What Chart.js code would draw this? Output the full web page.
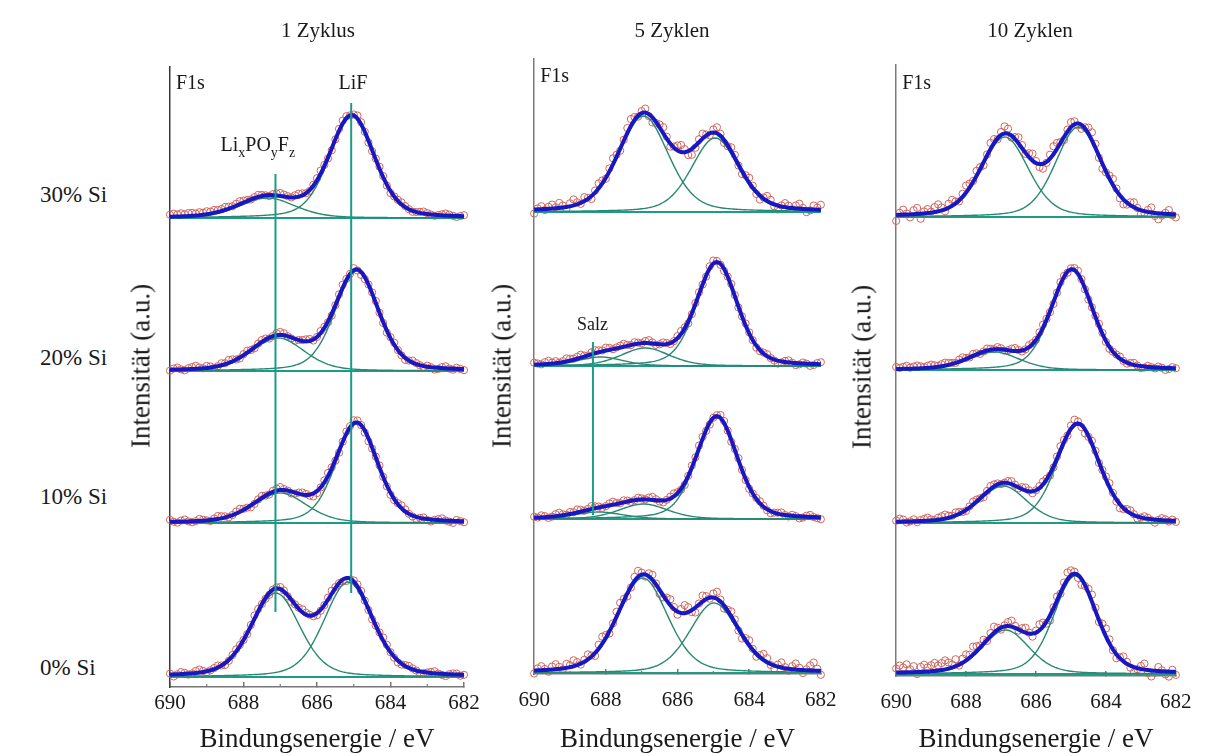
<!DOCTYPE html>
<html lang="de">
<head>
<meta charset="utf-8">
<title>F1s XPS-Spektren</title>
<script src="https://cdn.jsdelivr.net/npm/chart.js@4.4.1/dist/chart.umd.min.js"></script>
<style>
  html, body { margin: 0; padding: 0; background: #fff; }
  #figure { position: relative; width: 1210px; height: 756px; overflow: hidden;
            font-family: 'Liberation Serif', 'Times New Roman', serif; color: #1a1a1a; }
  #figure canvas { position: absolute; top: 0; }
  .title { position: absolute; top: 30px; font-size: 21px; white-space: nowrap; transform: translate(-50%, -50%); }
  .row { position: absolute; left: 40px; font-size: 23px; white-space: nowrap; transform: translateY(-50%); }
  .ytitle { position: absolute; font-size: 27px; white-space: nowrap; transform: translate(-50%, -50%) rotate(-90deg); }
</style>
</head>
<body>
<div id="figure">
  <canvas id="panel1" width="350" height="756" style="left:140px"></canvas>
  <canvas id="panel2" width="355" height="756" style="left:500px"></canvas>
  <canvas id="panel3" width="348" height="756" style="left:862px"></canvas>
</div>
<script>
// ---- data ----
const energyMin = 682;
const energyMax = 690;
const pointStep = 0.1;   // measurement step / eV
const curveStep = 0.05;  // sampling of the fit curves / eV
const lorentzShare = 0.3;

const panelTitles = ['1 Zyklus', '5 Zyklen', '10 Zyklen'];
const rowLabels = ['0% Si', '10% Si', '20% Si', '30% Si'];
const xTicks = [690, 688, 686, 684, 682];
const minorTicks = [689, 687, 685, 683];

// vertical offset of each stacked spectrum (a.u.), bottom row (0% Si) first
const offsets1 = [10, 164, 316, 469];
const offsets2 = [1, 155, 308, 462];
const offsets3 = [2, 153, 306, 459];

// fitted components: [centre / eV, height / a.u., FWHM / eV]
const peaks1 = [
  [[687.12, 84, 1.55], [685.15, 95, 1.55]],
  [[687.00, 30, 1.7], [684.92, 99, 1.35]],
  [[687.06, 33, 1.7], [684.92, 100, 1.4]],
  [[687.35, 20, 1.8], [685.05, 102, 1.45]]
];
const peaks2 = [
  [[686.97, 95, 1.65], [684.98, 70, 1.6]],
  [[688.20, 7, 1.6], [686.95, 15, 1.6], [684.90, 102, 1.35]],
  [[688.15, 9, 1.5], [686.90, 18, 1.6], [684.90, 103, 1.35]],
  [[686.95, 96, 1.65], [684.95, 74, 1.55]]
];
const peaks3 = [
  [[686.87, 44, 1.6], [684.88, 98, 1.45]],
  [[686.94, 37, 1.6], [684.80, 98, 1.45]],
  [[687.19, 18, 1.7], [684.97, 100, 1.4]],
  [[686.89, 80, 1.6], [684.79, 90, 1.55]]
];

// measured counts minus fit envelope, 690 -> 682 eV in 0.1 eV steps
const resid1 = [
  [ 1,-2, 0, 2, 1,-1, 0, 2, 3, 1,
   -1, 0, 1, 2, 0,-2,-1, 1, 2, 1,
    0,-1, 1, 3, 2, 0,-1,-2, 0, 1,
    2, 1,-1,-2, 0, 1, 3, 2, 1,-1,
   -2,-1, 0, 2, 3, 1, 0,-2,-3,-1,
    1, 2, 2, 0,-1,-2, 0, 1, 3, 2,
    0,-1,-2,-1, 1, 2, 1, 0,-2,-1,
    0, 1, 2, 0,-1,-2, 0, 1, 1,-1,
    0],
  [ 2, 0,-1, 1, 2, 0,-1, 0, 2, 1,
    0,-1, 1, 3, 2, 1,-1, 0, 2, 3,
    1, 0,-2,-1, 1, 2, 0,-1, 1, 2,
    3, 1, 0,-2,-1, 1, 2, 1,-1,-3,
   -2, 0, 2, 3, 1,-1,-2, 0, 2, 1,
    3, 2, 0,-2,-3,-1, 1, 2, 0,-1,
   -2,-1, 1, 3, 2, 0,-1,-2, 0, 1,
   -1,-2, 0, 1, 2, 0,-1,-2, 1, 0,
   -1],
  [-1, 1, 2, 0,-1, 1, 2, 3, 1, 0,
    2, 1,-1, 0, 2, 1, 3, 2, 0,-1,
    1, 2, 0,-1, 1, 2, 1,-1, 0, 2,
    3, 2, 0,-1,-2, 0, 1, 2, 2,-1,
    0, 2, 1,-1,-2, 0, 2, 3, 1, 0,
    2,-1,-3,-2, 0, 1, 2, 0,-1,-2,
    1, 2, 0,-1,-2, 0, 2, 1, 0,-1,
    1, 0,-2,-1, 1, 2, 0,-1, 1, 0,
   -1],
  [ 2, 3, 2, 3, 2, 3, 3, 2, 3, 2,
    3, 2, 3, 2, 2, 3, 2, 1, 2, 3,
    2, 1, 0, 1, 2, 1, 0,-1, 1, 2,
    3, 2, 1, 0, 2, 3, 2, 0,-1, 1,
    2, 3, 1,-1,-2, 0, 2, 3, 2, 0,
    1, 3, 2, 0,-2,-1, 1, 2, 1,-1,
   -2, 0, 1, 2, 1, 0,-1, 0, 1, 2,
    1, 0,-1, 0, 1, 2, 1, 0,-1, 0,
    1]
];
const resid2 = [
  [-3, 2, 4, 1,-2, 3, 5, 2,-1, 4,
    2, 6, 3,-1, 2, 5, 1,-3, 4, 7,
    3,-2, 1, 5, 6, 2,-3,-1, 4, 6,
    2,-2, 3, 5, 1,-4,-2, 3, 6, 2,
   -3, 4, 8, 5,-2,-5, 1, 6, 3,-1,
    4, 7, 2,-3, 1, 5, 3,-2,-4, 2,
    5, 1,-3, 2, 6, 4,-1,-3, 2, 5,
    1,-2, 3, 6, 2,-3, 1, 5, 8, 2,
   -4],
  [ 1, 0, 2, 1,-1, 0, 2, 3, 1, 0,
    2, 1, 3, 2, 0, 1, 3, 2, 1,-1,
    0, 2, 3, 1, 0, 2, 1,-1, 0, 2,
    1, 0, 2, 3, 1,-1,-2, 0, 2, 3,
    1,-1,-2, 0, 2, 1, 3, 2,-1,-2,
    0, 1, 3, 2, 0,-2, 1, 2, 0,-1,
   -2, 0, 1, 2, 1,-1,-2, 0, 1, 2,
    0,-1, 1, 0,-2,-1, 1, 2, 0,-1,
   -2],
  [ 2, 1, 0, 2, 3, 1, 2, 0, 1, 3,
    2, 1, 2, 3, 1, 0, 2, 3, 2, 1,
    3, 2, 0, 1, 2, 3, 1, 0, 2, 1,
    0, 2, 3, 1,-1, 0, 2, 1,-1, 0,
    2, 3, 1,-2,-1, 1, 2, 0,-1, 2,
    3, 1,-1,-2, 0, 2, 1,-1, 0, 2,
    1, 0,-2,-1, 1, 2, 0,-1,-3,-1,
    1, 2, 0,-2,-1, 1, 0,-2,-1, 1,
    2],
  [-4, 1, 3,-1, 2, 4, 1, 5, 2,-2,
    3, 6, 2,-1, 4, 1,-3, 2, 5, 3,
   -1, 3, 6, 2,-2, 1, 5, 7, 3,-1,
    2, 4,-2,-5,-1, 3, 6, 2,-3, 1,
    5, 7, 3,-4,-6,-2, 3, 5, 1,-2,
    3, 6, 2,-3,-1, 4, 3,-1,-3, 2,
    5, 2,-2,-4, 1, 5, 3,-2,-4, 1,
    4, 2,-1, 3, 5, 1,-3,-1, 4, 2,
    5]
];
const resid3 = [
  [ 4, 7, 5, 8, 3, 6,-2, 5, 7, 4,
    6, 8, 5, 7, 9, 6, 3, 7,-1, 4,
    6, 3, 8, 5, 2, 4,-1, 3, 6, 2,
   -2, 1, 4, 6, 2,-1, 3, 5, 1,-3,
    2, 6, 4,-2,-5, 1, 4,-1, 3, 7,
    5, 2,-3,-6,-1, 4, 7, 3,-2, 5,
    8, 4,-1,-4, 1, 5, 2,-2,-5,-1,
    3, 6,-3,-6,-2, 4, 1,-3,-5, 2,
   -3],
  [ 1, 3, 2,-1, 0, 2,-1, 1, 2, 3,
    1, 0, 2, 3, 4, 2, 1, 3, 2, 0,
   -1, 1, 3, 2, 0,-2, 1, 3, 2, 1,
   -1, 0, 2, 3, 1,-1, 2, 3, 1,-2,
    0, 2, 3, 1,-2,-1, 2, 4, 2,-1,
    3, 5, 2,-2,-4,-1, 3, 2,-1, 1,
    3, 4, 1,-2,-4,-1, 2, 3, 1,-2,
    0, 2, 1,-1,-3, 0, 2, 1,-1, 1,
   -1],
  [ 2, 1, 2, 3, 1, 2, 3, 2, 1, 2,
    3, 2, 1, 2, 3, 2, 1, 0, 2, 3,
    1, 0, 2, 1,-1, 0, 2, 1, 0, 2,
    1,-1, 0, 2, 3, 1,-1, 0, 2, 1,
    0, 2, 3, 1,-1,-2, 0, 2, 1,-1,
    1, 2, 3, 1,-1,-2, 0, 1, 2, 1,
   -1,-2, 0, 1, 2, 0,-1, 1, 2, 0,
   -2,-1, 1, 0,-1, 1, 0,-2,-1, 1,
    0],
  [-6, 2, 5, 1,-3, 4, 6,-5, 2, 4,
    1, 5, 7, 3,-2, 4, 6, 2,-1, 3,
    7, 4, 1, 5, 2,-3, 1, 6, 4,-1,
    3, 7, 5,-2, 2, 6, 3,-1, 4, 7,
    2,-3,-5,-1, 4, 8, 6, 1,-3, 2,
    5, 3,-2,-4, 1, 6, 8, 4,-2,-5,
   -1, 3, 6, 2,-3,-5,-2, 3, 5, 1,
   -4,-2, 2, 5,-3,-6,-2, 1, 4,-1,
   -3]
];

// reference lines: energy / eV and vertical extent (a.u.)
const markers1 = [687.13, 685.07];
const markerSpans1 = [[75, 513], [94, 584]];
const markers2 = [688.36];
const markerSpans2 = [[159, 332]];

// ---- styles ----
const BLUE = '#1717c4';
const COMPONENT = '#2a8872';
const BASELINE = '#1f9a86';
const MARKER = '#1a9c88';
const POINTS = '#d0665a';
const TEXT = '#1a1a1a';
const SERIF = "'Liberation Serif', 'Times New Roman', serif";

function pseudoVoigt(e, peak) {
  const [centre, height, fwhm] = peak;
  const u = (e - centre) / fwhm;
  return height * (lorentzShare / (1 + 4 * u * u) +
                   (1 - lorentzShare) * Math.exp(-4 * Math.LN2 * u * u));
}

function energyGrid(step) {
  const out = [];
  const n = Math.round((energyMax - energyMin) / step);
  for (let i = 0; i <= n; i++) out.push(+(energyMax - i * step).toFixed(3));
  return out;
}

function spectrumSets(offset, peaks, resid) {
  const fine = energyGrid(curveStep);
  const envelope = e => offset + peaks.reduce((s, p) => s + pseudoVoigt(e, p), 0);
  const sets = [];
  sets.push({ data: fine.map(e => ({ x: e, y: envelope(e) })),
              borderColor: BLUE, borderWidth: 4, order: 0 });
  peaks.forEach(p => sets.push({
    data: fine.map(e => ({ x: e, y: offset + pseudoVoigt(e, p) })),
    borderColor: COMPONENT, borderWidth: 1.4, order: 1 }));
  sets.push({ data: [{ x: energyMax, y: offset }, { x: energyMin, y: offset }],
              borderColor: BASELINE, borderWidth: 2, order: 1 });
  sets.push({ data: energyGrid(pointStep).map((e, i) => ({ x: e, y: envelope(e) + (resid[i] || 0) })),
              showLine: false, pointRadius: 3.6, pointBorderWidth: 1,
              pointBorderColor: POINTS, pointBackgroundColor: 'rgba(0,0,0,0)', order: 2 });
  return sets;
}

function markerSets(energies, spans) {
  return energies.map((e, i) => ({
    data: [{ x: e, y: spans[i][0] }, { x: e, y: spans[i][1] }],
    borderColor: MARKER, borderWidth: 2, order: -1 }));
}

// text with "_x" subscripts, e.g. Li_xPO_yF_z
function drawRich(ctx, text, x, y, size, align) {
  const parts = text.split(/_(.)/).map((t, i) => [t, i % 2 === 1]).filter(p => p[0]);
  const fontFor = sub => (sub ? size * 0.7 : size) + 'px ' + SERIF;
  const widths = parts.map(([t, sub]) => { ctx.font = fontFor(sub); return ctx.measureText(t).width; });
  const total = widths.reduce((a, b) => a + b, 0);
  let cx = align === 'center' ? x - total / 2 : x;
  ctx.textAlign = 'left';
  ctx.textBaseline = 'alphabetic';
  parts.forEach(([t, sub], i) => {
    ctx.font = fontFor(sub);
    ctx.fillText(t, cx, sub ? y + size * 0.28 : y);
    cx += widths[i];
  });
}

const panelDecor = {
  id: 'panelDecor',
  afterDraw(chart, args, opts) {
    const { ctx, chartArea, scales: { x, y } } = chart;
    ctx.save();
    ctx.strokeStyle = opts.axisColor;
    ctx.lineWidth = 1.2;
    minorTicks.forEach(v => {
      const px = x.getPixelForValue(v);
      ctx.beginPath();
      ctx.moveTo(px, chartArea.bottom);
      ctx.lineTo(px, chartArea.bottom - 3);
      ctx.stroke();
    });
    ctx.fillStyle = TEXT;
    drawRich(ctx, 'F1s', chartArea.left + 6, chartArea.top + opts.coreDy, 20, 'left');
    opts.notes.forEach(n => drawRich(ctx, n.text, x.getPixelForValue(n.energy),
                                     y.getPixelForValue(n.level), n.size, 'center'));
    ctx.restore();
  }
};

const panels = [
  { id: 'panel1', offsets: offsets1, peaks: peaks1, resid: resid1,
    markers: markerSets(markers1, markerSpans1),
    notes: [{ text: 'LiF', energy: 685.02, level: 598, size: 20 },
            { text: 'Li_xPO_yF_z', energy: 687.61, level: 536, size: 20 }],
    yMax: 620, padding: { left: 30, right: 26, top: 67, bottom: 0 },
    axisHeight: 69, tickPad: 8.4, coreDy: 22, leftAxis: '#3a3a3a' },
  { id: 'panel2', offsets: offsets2, peaks: peaks2, resid: resid2,
    markers: markerSets(markers2, markerSpans2),
    notes: [{ text: 'Salz', energy: 688.37, level: 344, size: 18 }],
    yMax: 615, padding: { left: 31, right: 28, top: 59, bottom: 0 },
    axisHeight: 82, tickPad: 18.4, coreDy: 23, leftAxis: '#7a7a7a' },
  { id: 'panel3', offsets: offsets3, peaks: peaks3, resid: resid3,
    markers: [],
    notes: [],
    yMax: 611, padding: { left: 30, right: 24, top: 65, bottom: 0 },
    axisHeight: 80, tickPad: 18.4, coreDy: 24, leftAxis: '#7a7a7a' }
];

panels.forEach(p => {
  let datasets = [...p.markers];
  p.offsets.forEach((off, row) => {
    datasets = datasets.concat(spectrumSets(off, p.peaks[row], p.resid[row]));
  });

  new Chart(document.getElementById(p.id), {
    type: 'line',
    data: { datasets },
    options: {
      responsive: false,
      animation: false,
      events: [],
      devicePixelRatio: 1,
      layout: { padding: p.padding },
      elements: {
        line: { tension: 0, fill: false },
        point: { radius: 0 }
      },
      datasets: { line: { clip: false, pointRadius: 0 } },
      scales: {
        x: {
          type: 'linear',
          min: energyMin,
          max: energyMax,
          reverse: true,
          afterBuildTicks: s => { s.ticks = xTicks.map(v => ({ value: v })); },
          afterFit: s => { s.height = p.axisHeight; },
          ticks: { padding: p.tickPad, color: TEXT, font: { family: SERIF, size: 21 } },
          grid: { drawOnChartArea: false, tickLength: -5, color: '#777', lineWidth: 1.5 },
          border: { color: '#777', width: 1.5 },
          title: { display: true, text: 'Bindungsenergie / eV', color: TEXT,
                   font: { family: SERIF, size: 27, lineHeight: 1.2 }, padding: { top: 0, bottom: 0 } }
        },
        y: {
          type: 'linear',
          min: 0,
          max: p.yMax,
          afterFit: s => { s.width = 0; },
          ticks: { display: false },
          grid: { drawOnChartArea: false, drawTicks: false },
          border: { color: p.leftAxis, width: 1.5 }
        }
      },
      plugins: {
        legend: { display: false },
        tooltip: { enabled: false },
        panelDecor: { axisColor: '#777', coreDy: p.coreDy, notes: p.notes }
      }
    },
    plugins: [panelDecor]
  });
});

// titles and labels around the panels
const fig = document.getElementById('figure');
function addText(cls, text, left, top) {
  const d = document.createElement('div');
  d.className = cls;
  d.textContent = text;
  d.style.left = left + 'px';
  d.style.top = top + 'px';
  fig.appendChild(d);
}
[318, 672, 1030].forEach((cx, i) => addText('title', panelTitles[i], cx, 30));
[668, 497, 358, 195].forEach((cy, i) => addText('row', rowLabels[i], 40, cy));
[[141, 366], [502, 366], [862, 367]].forEach(([cx, cy]) => addText('ytitle', 'Intensität (a.u.)', cx, cy));
</script>
</body>
</html>
